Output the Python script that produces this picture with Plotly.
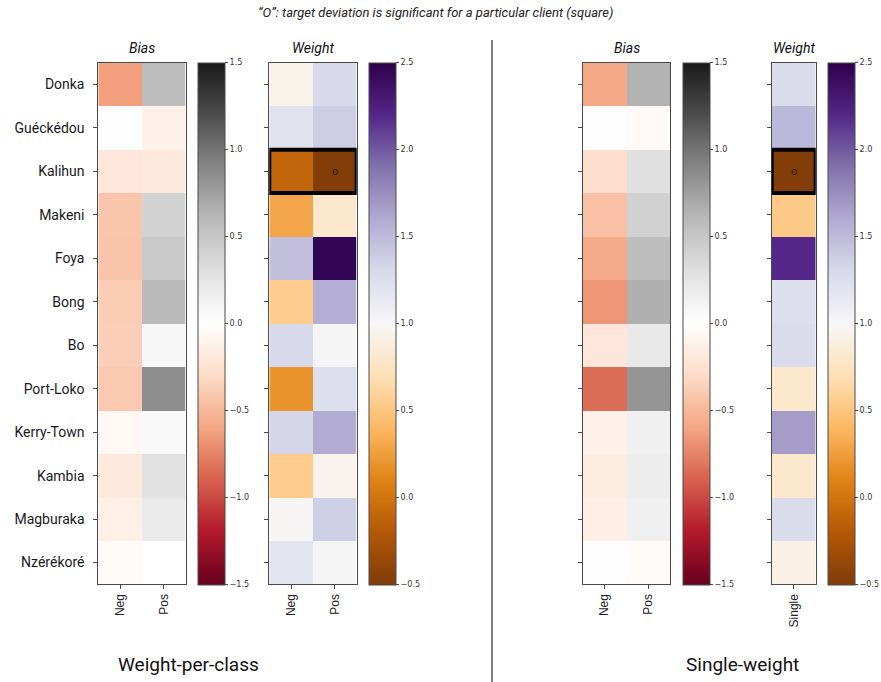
import plotly.graph_objects as go
from plotly.colors import diverging

W, H = 881, 682

clients = ["Donka", "Guéckédou", "Kalihun", "Makeni", "Foya", "Bong", "Bo",
           "Port-Loko", "Kerry-Town", "Kambia", "Magburaka", "Nzérékoré"]
classes = ["Neg", "Pos"]
single = ["Single"]

# Weight-per-class model: bias and weight deviations per client and class
bias_pc_neg = [-0.62, 0.02, -0.20, -0.42, -0.43, -0.38, -0.37, -0.40, -0.06, -0.18, -0.13, -0.03]
bias_pc_pos = [0.58, -0.12, -0.18, 0.40, 0.47, 0.60, 0.08, 0.86, 0.06, 0.28, 0.20, 0.00]
weight_pc_neg = [0.93, 1.22, -0.10, 0.30, 1.47, 0.55, 1.30, 0.20, 1.33, 0.55, 0.98, 1.20]
weight_pc_pos = [1.30, 1.38, -0.48, 0.80, 2.45, 1.58, 1.02, 1.25, 1.60, 0.95, 1.37, 1.02]

# Single-weight model
bias_sw_neg = [-0.58, 0.02, -0.28, -0.45, -0.57, -0.66, -0.20, -0.85, -0.12, -0.16, -0.14, 0.01]
bias_sw_pos = [0.64, -0.04, 0.30, 0.42, 0.57, 0.66, 0.22, 0.82, 0.15, 0.17, 0.15, -0.03]
weight_sw = [1.28, 1.52, -0.48, 0.53, 2.20, 1.25, 1.28, 0.80, 1.68, 0.80, 1.28, 0.92]

significant_client = "Kalihun"
bias_ticks = [-1.5, -1.0, -0.5, 0.0, 0.5, 1.0, 1.5]
weight_ticks = [-0.5, 0.0, 0.5, 1.0, 1.5, 2.0, 2.5]


def px(x):
    return x / W


def py(y):
    return 1 - y / H


def fmt(v):
    s = f"{v:.1f}"
    return s.replace("-", "\u2212")


TOP, BOTTOM = 62.7, 584.3
ROWS = list(range(len(clients)))
FRAME = "#4a4a4a"

panels = [
    # (x-left, x-right, colorbar-left, title)
    (98.3, 185.7, 198.3, "Bias"),
    (269.3, 356.7, 369.3, "Weight"),
    (582.7, 670.3, 682.7, "Bias"),
    (771.7, 815.7, 828.3, "Weight"),
]

data = [
    ([list(r) for r in zip(bias_pc_neg, bias_pc_pos)], classes, diverging.RdGy, -1.5, 1.5, bias_ticks),
    ([list(r) for r in zip(weight_pc_neg, weight_pc_pos)], classes, diverging.PuOr, -0.5, 2.5, weight_ticks),
    ([list(r) for r in zip(bias_sw_neg, bias_sw_pos)], classes, diverging.RdGy, -1.5, 1.5, bias_ticks),
    ([[v] for v in weight_sw], single, diverging.PuOr, -0.5, 2.5, weight_ticks),
]

fig = go.Figure()
annotations = []
shapes = []
layout = {}

for i, ((x0, x1, cbx, title), (z, cols, scale, zmin, zmax, ticks)) in enumerate(zip(panels, data), start=1):
    xa = "x" if i == 1 else f"x{i}"
    ya = "y" if i == 1 else f"y{i}"
    fig.add_trace(go.Heatmap(
        z=z, x=list(range(len(cols))), y=ROWS,
        xaxis=xa, yaxis=ya,
        colorscale=scale, zmin=zmin, zmax=zmax,
        showscale=True,
        colorbar=dict(
            x=px(cbx), xanchor="left", xpad=0,
            y=py((TOP + BOTTOM) / 2), yanchor="middle", ypad=0,
            len=BOTTOM - TOP, lenmode="pixels",
            thickness=26.7, thicknessmode="pixels",
            outlinewidth=1, outlinecolor=FRAME,
            tickvals=ticks, ticktext=[fmt(t) for t in ticks],
            ticks="outside", ticklen=3, tickcolor=FRAME,
            tickfont=dict(family="DejaVu Sans", size=8, color="#333"),
        ),
    ))
    layout[f"xaxis{i}"] = dict(
        domain=[px(x0), px(x1)], anchor=ya,
        range=[-0.5, len(cols) - 0.5],
        tickvals=list(range(len(cols))), ticktext=cols, tickangle=-90,
        tickfont=dict(family="Liberation Sans", size=12, color="#222"),
        ticks="outside", ticklen=4, tickcolor=FRAME,
        showline=True, mirror=True, linecolor=FRAME, linewidth=1,
        showgrid=False, zeroline=False, fixedrange=True,
    )
    layout[f"yaxis{i}"] = dict(
        domain=[py(BOTTOM), py(TOP)], anchor=xa,
        range=[len(clients) - 0.5, -0.5],
        tickvals=ROWS, ticktext=clients if i == 1 else [""] * len(clients),
        tickfont=dict(family="Roboto", size=14, color="#1a1a1a"),
        ticks="outside", ticklen=4, tickcolor=FRAME,
        ticklabelstandoff=6,
        showline=True, mirror=True, linecolor=FRAME, linewidth=1,
        showgrid=False, zeroline=False, fixedrange=True,
    )
    annotations.append(dict(
        text=f"<i>{title}</i>", xref="paper", yref="paper",
        x=px((x0 + x1) / 2), y=py(48), xanchor="center", yanchor="middle",
        showarrow=False, font=dict(family="Roboto", size=14, color="#111"),
    ))

# Square around the client whose target deviation is significant, with the "o" marker
row = clients.index(significant_client)
for xa, ya, ncols, mark_col in (("x2", "y2", 2, 1), ("x4", "y4", 1, 0)):
    shapes.append(dict(
        type="rect", xref=xa, yref=ya,
        x0=-0.5, x1=ncols - 0.5, y0=row - 0.5, y1=row + 0.5,
        line=dict(color="black", width=4),
    ))
    annotations.append(dict(
        text="o", xref=xa, yref=ya, x=mark_col, y=row,
        showarrow=False, font=dict(family="DejaVu Sans", size=10, color="#222"),
    ))

# Divider between the two model variants
shapes.append(dict(
    type="line", xref="paper", yref="paper",
    x0=px(492), x1=px(492), y0=py(40), y1=0,
    line=dict(color="black", width=1),
))

annotations += [
    dict(text="<i>\u201cO\u201d: target deviation is significant for a particular client (square)</i>",
         xref="paper", yref="paper", x=px(435), y=py(13), xanchor="center", yanchor="middle",
         showarrow=False, font=dict(family="Roboto", size=13, color="#222")),
    dict(text="Weight-per-class", xref="paper", yref="paper", x=px(188), y=py(664),
         xanchor="center", yanchor="middle", showarrow=False,
         font=dict(family="Roboto", size=19, color="#111")),
    dict(text="Single-weight", xref="paper", yref="paper", x=px(742), y=py(664),
         xanchor="center", yanchor="middle", showarrow=False,
         font=dict(family="Roboto", size=19, color="#111")),
]

fig.update_layout(
    width=W, height=H,
    margin=dict(l=0, r=0, t=0, b=0),
    paper_bgcolor="white", plot_bgcolor="white",
    annotations=annotations, shapes=shapes,
    **layout,
)

fig.write_html("out.html")
